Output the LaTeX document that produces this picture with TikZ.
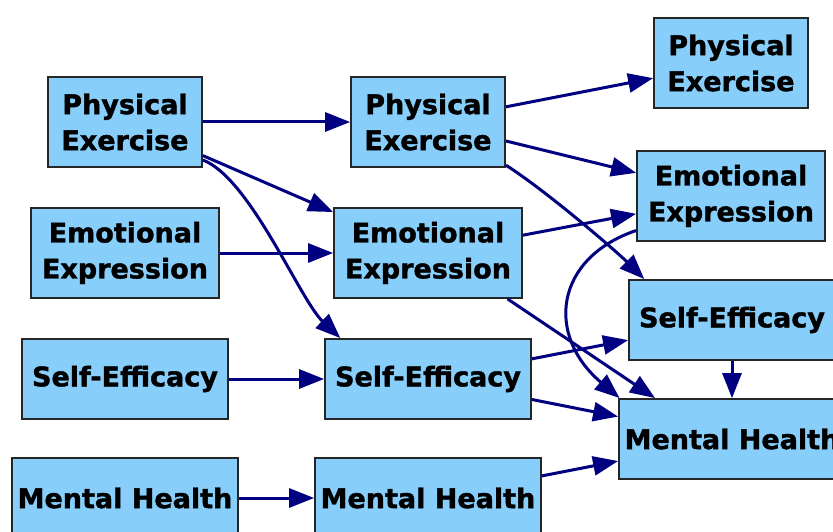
\documentclass[tikz,border=0pt]{standalone}
\usepackage{fontspec}
\setmainfont{DejaVu Sans}[BoldFeatures={FakeBold=1.4}]
\usetikzlibrary{arrows.meta}
\definecolor{boxblue}{HTML}{87CEFA}
\definecolor{linknavy}{HTML}{000080}
\begin{document}
\begin{tikzpicture}
    [
    x=1pt,y=-1pt,
    box/.style={rectangle,draw=black!85,line width=1.8pt,fill=boxblue,inner sep=0pt,align=center,font=\fontsize{27}{36}\selectfont\bfseries},
    twoline/.style={box,minimum height=90pt},
    oneline/.style={box,minimum height=80pt},
    link/.style={draw=linknavy,line width=3pt,-{Triangle[length=25pt,width=19pt]}},
    ]
    \useasboundingbox (0,0) rectangle (833,532);
    \clip (0,0) rectangle (833,532);
    % first wave
    \node (pe1) at (125,122) [twoline,minimum width=154pt] {Physical\\Exercise};
    \node (ee1) at (125,253) [twoline,minimum width=188pt] {Emotional\\Expression};
    \node (se1) at (125,379) [oneline,minimum width=206pt] {Self-Efficacy};
    \node (mh1) at (125,498) [oneline,minimum width=226pt] {Mental Health};
    % second wave
    \node (pe2) at (428,122) [twoline,minimum width=154pt] {Physical\\Exercise};
    \node (ee2) at (428,253) [twoline,minimum width=188pt] {Emotional\\Expression};
    \node (se2) at (428,379) [oneline,minimum width=206pt] {Self-Efficacy};
    \node (mh2) at (428,498) [oneline,minimum width=226pt] {Mental Health};
    % third wave
    \node (pe3) at (731,63) [twoline,minimum width=154pt] {Physical\\Exercise};
    \node (ee3) at (731,196) [twoline,minimum width=188pt] {Emotional\\Expression};
    \node (se3) at (732,320) [oneline,minimum width=206pt] {Self-Efficacy};
    \node (mh3) at (732,439) [oneline,minimum width=226pt] {Mental Health};
    % paths
    \draw [link] (pe1) to (pe2);
    \draw [link] (pe1) to (ee2);
    \draw [link] (pe1.-26) .. controls (250,178) and (300,300) .. (se2.155);
    \draw [link] (ee1) to (ee2);
    \draw [link] (se1) to (se2);
    \draw [link] (mh1) to (mh2);
    \draw [link] (pe2) to (pe3);
    \draw [link] (pe2) to (ee3);
    \draw [link] (pe2.-29) .. controls (545,190) and (615,250) .. (se3.155);
    \draw [link] (ee2) to (ee3);
    \draw [link] (ee2.-30) to (mh3.152);
    \draw [link] (ee3.200) .. controls (555,258) and (545,335) .. (mh3.160);
    \draw [link] (se2) to (se3);
    \draw [link] (se2) to (mh3);
    \draw [link] (se3) to (mh3);
    \draw [link] (mh2) to (mh3);
  \end{tikzpicture}
\end{document}
